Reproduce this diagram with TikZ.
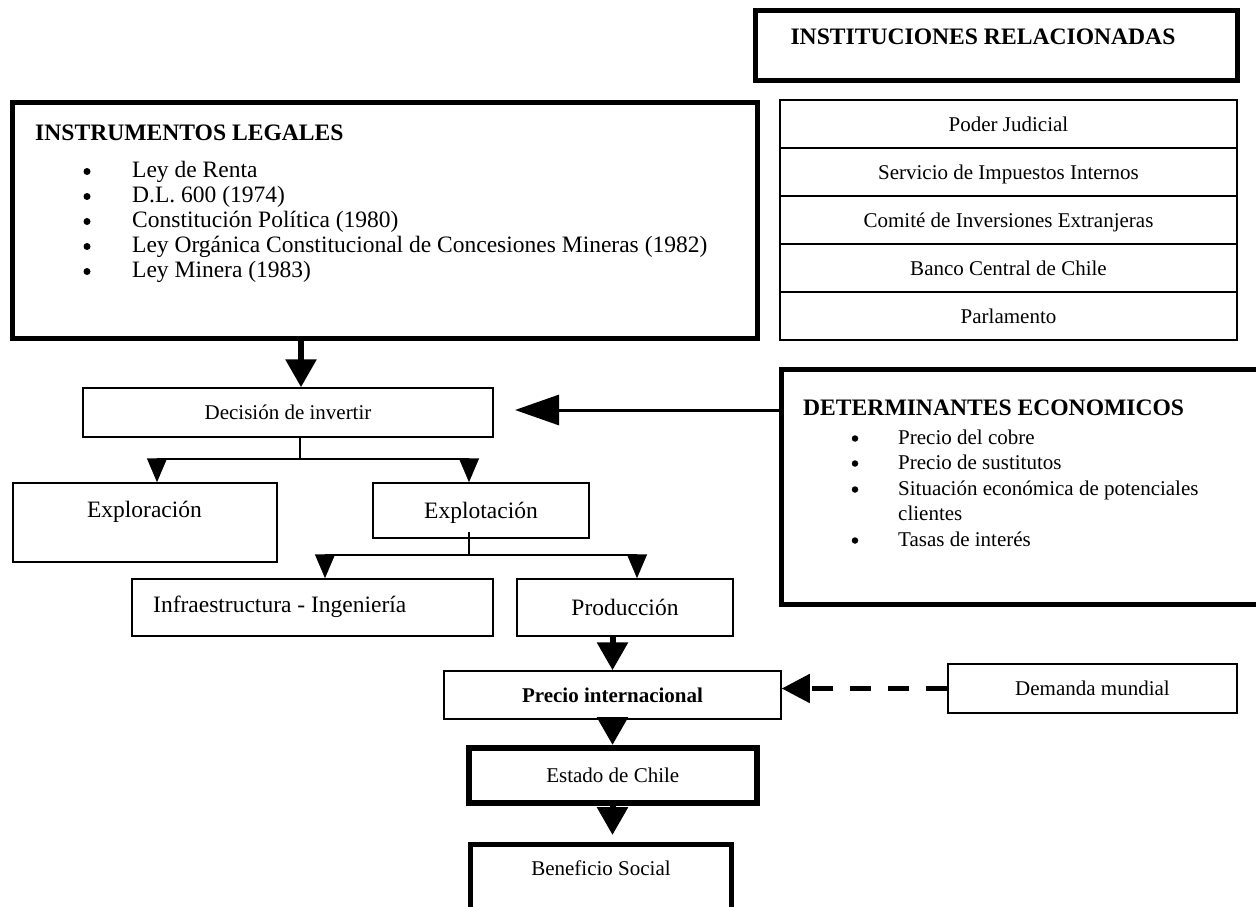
\documentclass[tikz,border=0pt]{standalone}
\usepackage{fontspec}
\setmainfont{Liberation Serif}
\usetikzlibrary{arrows.meta}
\begin{document}
\begin{tikzpicture}[x=1pt,y=-1pt,
  thinbox/.style={draw, line width=1.5pt, inner sep=0pt},
  thickbox/.style={draw, line width=5pt, inner sep=0pt},
  heavybox/.style={draw, line width=6pt, inner sep=0pt},
  txtS/.style={inner sep=0pt, font=\fontsize{21}{25}\selectfont, text height=14pt, text depth=0pt},
  txtSb/.style={inner sep=0pt, font=\fontsize{21}{25}\selectfont\bfseries, text height=14pt, text depth=0pt},
  txtL/.style={inner sep=0pt, font=\fontsize{23.5}{28}\selectfont, text height=15.5pt, text depth=0pt},
  ttl/.style={inner sep=0pt, font=\fontsize{23.6}{28}\selectfont\bfseries, text height=15.6pt, text depth=0pt},
  bulL/.style={fill=black, circle, inner sep=0pt, minimum size=7pt},
  bulS/.style={fill=black, circle, inner sep=0pt, minimum size=6.5pt},
  conn/.style={line width=1.5pt},
  medarrow/.style={line width=1.5pt, -{Triangle[length=24pt,width=20pt]}},
  bigarrow/.style={line width=6pt, -{Triangle[length=28pt,width=30pt]}},
  detarrow/.style={line width=3pt, -{Triangle[length=44pt,width=30pt]}},
  dasharrow/.style={line width=5pt, dash pattern=on 21pt off 17pt, -{Triangle[length=28pt,width=28pt]}},
]
\fill[white] (0,0) rectangle (1256,907);
\useasboundingbox (0,0) rectangle (1256,907);
\clip (0,0) rectangle (1256,907);

% Instituciones relacionadas
\node[thickbox, minimum width=482pt, minimum height=70pt] (instbox) at (996,46) {};
\node[ttl] (insttitle) at (983,37) {INSTITUCIONES RELACIONADAS};
\node[thinbox, txtS, minimum width=457pt, minimum height=48pt] (r1) at (1008.5,124) {Poder Judicial};
\node[thinbox, txtS, minimum width=457pt, minimum height=48pt] (r2) at (1008.5,172) {Servicio de Impuestos Internos};
\node[thinbox, txtS, minimum width=457pt, minimum height=48pt] (r3) at (1008.5,220) {Comité de Inversiones Extranjeras};
\node[thinbox, txtS, minimum width=457pt, minimum height=48pt] (r4) at (1008.5,268) {Banco Central de Chile};
\node[thinbox, txtS, minimum width=457pt, minimum height=48pt] (r5) at (1008.5,316) {Parlamento};

% Instrumentos legales
\node[thickbox, minimum width=744.5pt, minimum height=236pt] (leg) at (384.75,220) {};
\node[ttl, anchor=west] (legt) at (35,133) {INSTRUMENTOS LEGALES};
\node[bulL] (lb1) at (87,171.5) {};
\node[txtL, anchor=west] (li1) at (132,170) {Ley de Renta};
\node[bulL] (lb2) at (87,196.5) {};
\node[txtL, anchor=west] (li2) at (132,195) {D.L. 600 (1974)};
\node[bulL] (lb3) at (87,221.5) {};
\node[txtL, anchor=west] (li3) at (132,220) {Constitución Política (1980)};
\node[bulL] (lb4) at (87,246.5) {};
\node[txtL, anchor=west] (li4) at (132,245) {Ley Orgánica Constitucional de Concesiones Mineras (1982)};
\node[bulL] (lb5) at (87,271.5) {};
\node[txtL, anchor=west] (li5) at (132,270) {Ley Minera (1983)};

% Decision
\node[thinbox, txtS, minimum width=410pt, minimum height=49pt] (dec) at (288,412.5) {Decisión de invertir};

% Determinantes economicos
\node[thickbox, minimum width=509pt, minimum height=235pt] (det) at (1035.5,486.5) {};
\node[ttl, anchor=west] (dett) at (803,408) {DETERMINANTES ECONOMICOS};
\node[bulS] (db1) at (855,438.5) {};
\node[txtS, anchor=west] (di1) at (898,437) {Precio del cobre};
\node[bulS] (db2) at (855,463.5) {};
\node[txtS, anchor=west] (di2) at (898,462) {Precio de sustitutos};
\node[bulS] (db3) at (855,489.5) {};
\node[txtS, anchor=west] (di3) at (898,488) {Situación económica de potenciales};
\node[txtS, anchor=west] (di3b) at (898,513) {clientes};
\node[bulS] (db4) at (855,540.5) {};
\node[txtS, anchor=west] (di4) at (898,539) {Tasas de interés};

% Exploracion / Explotacion
\node[thinbox, minimum width=264pt, minimum height=79pt] (explor) at (145,522.5) {};
\node[txtL] (explort) at (144.5,510) {Exploración};
\node[thinbox, txtL, minimum width=216pt, minimum height=55pt] (explot) at (481,510.5) {Explotación};

% Infraestructura / Produccion
\node[thinbox, minimum width=361pt, minimum height=57pt] (infra) at (312.5,607.5) {};
\node[txtL, anchor=west] (infrat) at (153,605) {Infraestructura - Ingeniería};
\node[thinbox, txtL, minimum width=216pt, minimum height=57pt] (prod) at (625,607.5) {Producción};

% Precio internacional / Demanda mundial
\node[thinbox, txtSb, minimum width=337pt, minimum height=48pt] (prec) at (612.5,695) {Precio internacional};
\node[thinbox, txtS, minimum width=289pt, minimum height=49pt] (dem) at (1092.5,688.5) {Demanda mundial};

% Estado / Beneficio
\node[heavybox, txtS, minimum width=287.5pt, minimum height=55pt] (est) at (612.75,775.5) {Estado de Chile};
\node[thickbox, minimum width=261.5pt, minimum height=85pt] (ben) at (600.75,887) {};
\node[txtS] (bent) at (601,868) {Beneficio Social};

% Connectors
\draw[bigarrow] (301,0 |- leg.south) -- (301,0 |- dec.north);

\coordinate (br1) at (300,459);
\draw[conn] (br1 |- dec.south) -- (br1);
\draw[medarrow] (br1) -| (157,0 |- explor.north);
\draw[medarrow] (br1) -| (469,0 |- explot.north);

\coordinate (br2) at (469,555);
\draw[conn] (469,532) -- (br2);
\draw[medarrow] (br2) -| (325,0 |- infra.north);
\draw[medarrow] (br2) -| (637,0 |- prod.north);

\coordinate (decTip) at (515,410);
\draw[detarrow] (det.west |- decTip) -- (decTip);

\draw[bigarrow] (prec.north |- prod.south) -- (prec.north);
\draw[bigarrow] (prec.south) -- (prec.south |- est.north);
\coordinate (benTip) at (612.5,835);
\draw[bigarrow] (benTip |- est.south) -- (benTip);

\draw[dasharrow] (dem.west) -- (dem.west -| prec.east);
\end{tikzpicture}
\end{document}
